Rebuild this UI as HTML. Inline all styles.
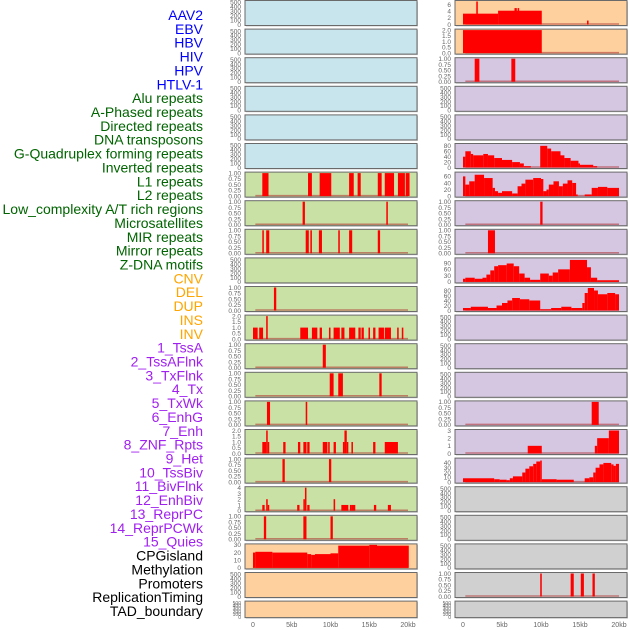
<!DOCTYPE html>
<html><head><meta charset="utf-8"><style>
html,body{margin:0;padding:0;background:#fff;}
svg{display:block;font-family:"Liberation Sans",sans-serif;}
</style></head><body>
<svg id="chart" width="630" height="630" viewBox="0 0 630 630"></svg>
<script>
// ---- data (kb start, kb end, value) ----
const trackLabels = ["AAV2","EBV","HBV","HIV","HPV","HTLV-1","Alu repeats","A-Phased repeats","Directed repeats","DNA transposons","G-Quadruplex forming repeats","Inverted repeats","L1 repeats","L2 repeats","Low_complexity A/T rich regions","Microsatellites","MIR repeats","Mirror repeats","Z-DNA motifs","CNV","DEL","DUP","INS","INV","1_TssA","2_TssAFlnk","3_TxFlnk","4_Tx","5_TxWk","6_EnhG","7_Enh","8_ZNF_Rpts","9_Het","10_TssBiv","11_BivFlnk","12_EnhBiv","13_ReprPC","14_ReprPCWk","15_Quies","CPGisland","Methylation","Promoters","ReplicationTiming","TAD_boundary"];
const labelGroups = ["virus","virus","virus","virus","virus","virus","repeat","repeat","repeat","repeat","repeat","repeat","repeat","repeat","repeat","repeat","repeat","repeat","repeat","sv","sv","sv","sv","sv","state","state","state","state","state","state","state","state","state","state","state","state","state","state","state","other","other","other","other","other"];
const xTickLabels = ["0","5kb","10kb","15kb","20kb"];
const xTickValues = [0,5,10,15,20];
const emptyTicks = ["0","100","200","300","400","500"];
const unitTicks = ["0.00","0.25","0.50","0.75","1.00"];
const twoTicks = ["0.0","0.5","1.0","1.5","2.0"];

const leftL1 = [[1.2,2.0,1],[7.1,7.6,1],[8.6,10.1,1],[12.4,13.0,1],[13.5,13.9,1],[16.1,16.6,1],[17.0,18.2,1],[18.7,19.6,1],[19.7,20.2,1]];
const leftLowComplex = [[6.4,6.7,1],[17.2,17.4,1]];
const leftMIR = [[1.2,1.4,1],[1.7,2.1,1],[6.8,7.2,1],[7.4,7.6,1],[8.5,8.9,1],[11.0,11.2,1],[12.4,12.8,1],[16.1,16.4,1]];
const leftDEL = [[2.7,3.0,1]];
const leftINS = [[0,0.6,1],[0.8,1.3,1],[1.7,1.9,2],[6.1,7.1,1],[7.6,8.3,1],[8.6,8.9,1],[9.8,10.0,1],[10.4,11.2,1],[11.4,11.8,1],[12.4,13.2,1],[13.6,13.9,1],[14.0,14.3,1],[14.9,15.1,1],[15.5,15.8,1],[16.2,16.9,1],[17.0,17.8,1],[18.6,18.8,1],[19.2,19.4,1]];
const leftTssA = [[9.0,9.4,1]];
const leftTxFlnk = [[9.9,10.4,1],[11.0,11.6,1],[16.3,16.6,1]];
const leftTxWk = [[1.8,2.2,1],[6.8,7.0,1]];
const leftEnh = [[1.2,1.7,1],[1.7,1.9,2],[1.9,2.1,1],[3.9,4.2,1],[5.8,6.1,1],[6.5,6.9,1],[7.0,7.3,1],[9.0,9.6,1],[9.7,9.9,1],[10.4,10.7,1],[11.6,11.8,1],[11.8,12.1,2],[12.1,12.3,1],[12.7,12.9,1],[15.5,15.8,1],[17.0,18.7,1]];
const leftHet = [[3.8,4.1,1],[9.8,10.1,1]];
const leftBivFlnk = [[1.2,1.5,1],[1.7,1.9,2],[1.9,2.1,1],[5.7,6.0,1],[6.5,6.7,2],[6.7,6.9,4],[7.0,7.3,1],[10.4,10.6,2],[11.4,12.3,1],[12.5,12.7,1],[12.7,13.2,1],[15.6,15.9,1],[17.4,17.8,1]];
const leftReprPC = [[1.4,1.7,1],[6.5,6.9,1],[10.0,10.3,1]];
const leftCPG = [[0,0.3,20],[0.3,2.5,21],[2.5,7,20],[7,7.5,18],[7.5,8,17],[8,10,18],[10,11,19],[11,15,29],[15,16,30],[16,20.1,29]];

const rightAAV2 = [[0,4.5,3.3],[1.7,1.9,7],[4.5,10.1,4.2],[6.6,6.9,5],[7.0,7.2,5],[15.9,16.1,1.2]];
const rightEBV = [[0,10.1,2]];
const rightHBV = [[1.5,2.1,1],[6.2,6.7,1]];
const rightGQuad = [[0,0.3,40],[0.3,1,60],[1,1.3,50],[1.3,2.6,45],[2.6,3.2,50],[3.2,4,45],[4,5,35],[5,6.3,28],[6.3,7.3,20],[7.3,7.8,15],[7.8,8.7,5],[9.9,10.8,80],[10.8,11.3,70],[11.3,12.5,60],[12.5,13,45],[13,13.8,35],[13.8,14.8,25],[14.8,15,15],[15,16.7,10],[16.7,17.2,5]];
const rightInverted = [[0,0.3,60],[0.3,0.8,35],[0.8,1.5,45],[1.5,2.7,65],[2.7,3.8,55],[3.8,4.1,25],[4.1,4.5,15],[4.5,5,10],[5,6.3,15],[6.3,7,8],[7,7.5,30],[7.5,8,38],[8,9,50],[9,10,55],[10,10.3,52],[10.3,10.7,15],[10.7,11,20],[11,11.6,35],[11.6,12.3,45],[12.3,12.8,30],[12.8,13.4,38],[13.4,14,48],[14,14.5,40],[14.5,14.7,5],[15.6,16.5,5],[16.5,17.3,25],[17.3,18.5,28],[18.5,20,25]];
const rightLowComplex = [[9.9,10.2,1]];
const rightMIR = [[3.2,4.1,1]];
const rightZDNA = [[0,0.3,15],[0.3,1.5,20],[1.5,2.5,15],[2.5,3,20],[3,3.5,35],[3.5,4,55],[4,4.5,75],[4.5,5.6,80],[5.6,6.5,88],[6.5,7.2,75],[7.2,7.9,40],[7.9,8.6,20],[8.6,9.9,10],[9.9,11,40],[11,11.5,30],[11.5,12.2,45],[12.2,13.7,60],[13.7,15.9,105],[15.9,16.4,70],[16.4,17.2,20],[17.2,20,8]];
const rightCNV = [[0,1,10],[1,3.2,15],[3.2,4.3,10],[4.3,5,20],[5,5.7,30],[5.7,6.3,40],[6.3,7.3,50],[7.3,8.5,45],[8.5,9.9,40],[9.9,11.3,5],[11.3,12.6,10],[12.6,13.9,15],[13.9,15.3,10],[15.3,15.6,30],[15.6,16,70],[16,16.8,90],[16.8,17.3,80],[17.3,18.5,65],[18.5,19.5,70],[19.5,20,65]];
const rightTxWk = [[16.5,17.4,1]];
const rightEnh = [[8.3,10.1,1],[16.9,17.2,1],[17.2,18.7,2],[18.7,20,3]];
const rightHet = [[0,4,8],[4,4.7,6],[4.7,5.6,5],[5.6,6,4],[6,6.4,8],[6.4,7.6,12],[7.6,8,20],[8,8.5,28],[8.5,9,33],[9,9.4,38],[9.4,9.9,43],[9.9,10.1,45],[10.1,12,6],[12,14.2,5],[15.6,16.2,8],[16.2,16.7,10],[16.7,17,20],[17,17.5,30],[17.5,18,37],[18,19,40],[19,19.3,37],[19.3,19.6,34],[19.6,20,38]];
const rightPromoters = [[9.9,10.1,1],[13.8,14.2,1],[15.1,15.5,1],[16.6,16.9,1]];

const BG = {blue:"#c8e4ec",green:"#c9e1a5",orange:"#fed09e",purple:"#d5c6e1",gray:"#d0d0d0"};
const LABEL_COL = {virus:"#0000ff",repeat:"#006400",sv:"#ffa500",state:"#a020f0",other:"#000000"};
const E = null;
const leftPanels = [
 [0,E,"blue"],[1,E,"blue"],[2,E,"blue"],[3,E,"blue"],[4,E,"blue"],[5,E,"blue"],
 [6,leftL1,"green",1,unitTicks,[0,.25,.5,.75,1]],
 [7,leftLowComplex,"green",1,unitTicks,[0,.25,.5,.75,1]],
 [8,leftMIR,"green",1,unitTicks,[0,.25,.5,.75,1]],
 [9,E,"green"],
 [10,leftDEL,"green",1,unitTicks,[0,.25,.5,.75,1]],
 [11,leftINS,"green",2,twoTicks,[0,.5,1,1.5,2]],
 [12,leftTssA,"green",1,unitTicks,[0,.25,.5,.75,1]],
 [13,leftTxFlnk,"green",1,unitTicks,[0,.25,.5,.75,1]],
 [14,leftTxWk,"green",1,unitTicks,[0,.25,.5,.75,1]],
 [15,leftEnh,"green",2,twoTicks,[0,.5,1,1.5,2]],
 [16,leftHet,"green",1,unitTicks,[0,.25,.5,.75,1]],
 [17,leftBivFlnk,"green",4,["0","1","2","3","4"],[0,1,2,3,4]],
 [18,leftReprPC,"green",1,unitTicks,[0,.25,.5,.75,1]],
 [19,leftCPG,"orange",30,["0","10","20","30"],[0,10,20,30]],
 [20,E,"orange"],[21,E,"orange"]
];
const rightPanels = [
 [0,rightAAV2,"orange",7,["0","2","4","6"],[0,2,4,6]],
 [1,rightEBV,"orange",2,twoTicks,[0,.5,1,1.5,2]],
 [2,rightHBV,"purple",1,unitTicks,[0,.25,.5,.75,1]],
 [3,E,"purple"],[4,E,"purple"],
 [5,rightGQuad,"purple",85,["0","20","40","60","80"],[0,20,40,60,80]],
 [6,rightInverted,"purple",70,["0","20","40","60"],[0,20,40,60]],
 [7,rightLowComplex,"purple",1,unitTicks,[0,.25,.5,.75,1]],
 [8,rightMIR,"purple",1,unitTicks,[0,.25,.5,.75,1]],
 [9,rightZDNA,"purple",110,["0","30","60","90"],[0,30,60,90]],
 [10,rightCNV,"purple",92,["0","20","40","60","80"],[0,20,40,60,80]],
 [11,E,"purple"],[12,E,"purple"],[13,E,"purple"],
 [14,rightTxWk,"purple",1,unitTicks,[0,.25,.5,.75,1]],
 [15,rightEnh,"purple",3,["0","1","2","3"],[0,1,2,3]],
 [16,rightHet,"purple",48,["0","10","20","30","40"],[0,10,20,30,40]],
 [17,E,"gray"],[18,E,"gray"],[19,E,"gray"],
 [20,rightPromoters,"gray",1,unitTicks,[0,.25,.5,.75,1]],
 [21,E,"gray"]
];

const NS = "http://www.w3.org/2000/svg";
const svg = document.getElementById("chart");
function mk(tag, attrs, parent){const e=document.createElementNS(NS,tag);for(const k in attrs)e.setAttribute(k,attrs[k]);(parent||svg).appendChild(e);return e;}

const ROW_PITCH = 28.6;
function rowTop(r){return r*ROW_PITCH+0.5;}
function rowH(r){return r===21?16.5:25;}
const COLS = {left:{x0:245,x1:417,kb0:253,pxPerKb:7.75},right:{x0:455,x1:627,kb0:463,pxPerKb:7.8}};
function xScale(col,kb){return COLS[col].kb0+kb*COLS[col].pxPerKb;}
function yScale(r,v,max){const t=rowTop(r)+1,b=rowTop(r)+rowH(r)-1;return b-(v/max)*(b-t);}

trackLabels.forEach((lab,i)=>{
  const t=mk("text",{x:203,y:15+13.86*i+5,"text-anchor":"end","font-size":"14",fill:LABEL_COL[labelGroups[i]]});
  t.textContent=lab;
  
  
});

function drawPanel(col,p){
  const [r,data,bg]=p;
  let max=p[3], ticks=p[4], tickVals=p[5];
  const c=COLS[col], top=rowTop(r), h=rowH(r);
  const g=mk("g",{});
  
  
  mk("rect",{x:c.x0+1,y:top+1,width:c.x1-c.x0,height:h,fill:"#9a9a9a",opacity:0.5},g);
  mk("rect",{x:c.x0,y:top,width:c.x1-c.x0,height:h,fill:BG[bg],stroke:"#6a6a6a","stroke-width":1},g);
  if(!data){
    max=520; ticks=emptyTicks; tickVals=[0,100,200,300,400,500];
  }
  ticks.forEach((lab,k)=>{
    const y=yScale(r,tickVals[k],max);
    const t=mk("text",{x:c.x0-4,y:y+2.3,"text-anchor":"end","font-size":h<20?"5":"6.5",fill:"#666"},g);
    t.textContent=lab;
    
    
  });
  if(!data) return;
  const bl=mk("line",{x1:xScale(col,0.3),x2:xScale(col,20),y1:yScale(r,0,max)-0.5,y2:yScale(r,0,max)-0.5,stroke:"#b03030","stroke-width":1.5,opacity:0.55},g);
  
  
  data.forEach(d=>{
    const x1=xScale(col,d[0]),x2=xScale(col,d[1]);
    const y=yScale(r,Math.min(d[2],max),max),yb=yScale(r,0,max);
    const b=mk("rect",{x:x1,y:y,width:Math.max(1,x2-x1),height:yb-y,fill:"#ff0000"},g);
    
    
  });
}
leftPanels.forEach(p=>drawPanel("left",p));
rightPanels.forEach(p=>drawPanel("right",p));

["left","right"].forEach(col=>{
  xTickValues.forEach((v,k)=>{
    const t=mk("text",{x:xScale(col,v),y:627,"text-anchor":"middle","font-size":"7",fill:"#666"});
    t.textContent=xTickLabels[k];
    
    
  });
});
</script>
</body></html>
